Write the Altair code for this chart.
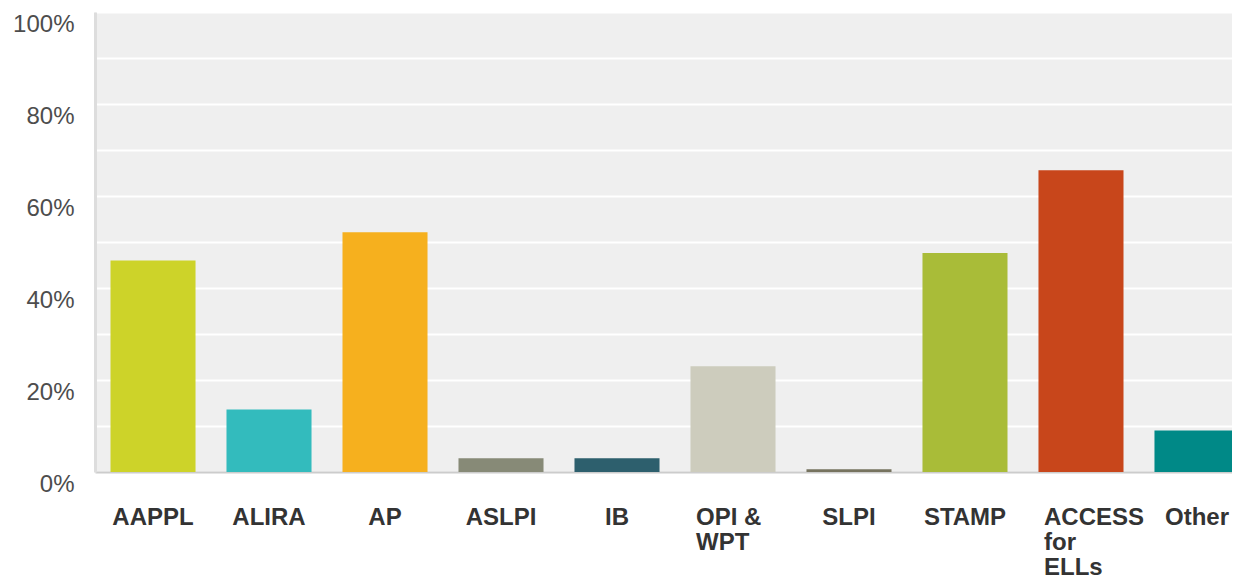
import altair as alt
import pandas as pd

categories = ["AAPPL", "ALIRA", "AP", "ASLPI", "IB", "OPI & WPT", "SLPI",
              "STAMP", "ACCESS for ELLs", "Other"]
shares = [0.460, 0.136, 0.521, 0.030, 0.030, 0.230, 0.006, 0.476, 0.656, 0.090]
y_ticks = [0, 0.1, 0.2, 0.3, 0.4, 0.5, 0.6, 0.7, 0.8, 0.9, 1.0]

bar_colors = ["#cdd329", "#33bbbd", "#f6b01e", "#878a77", "#2d5f6d",
              "#cdccbd", "#76735f", "#a9bc38", "#c8461b", "#008987"]

df = pd.DataFrame({"category": categories, "share": shares})

label_expr = (
    "datum.value == 'OPI & WPT' ? ['OPI &', 'WPT'] : "
    "datum.value == 'ACCESS for ELLs' ? ['ACCESS', 'for', 'ELLs'] : datum.label"
)
multi_test = "datum.value == 'OPI & WPT' || datum.value == 'ACCESS for ELLs'"

chart = alt.Chart(df).mark_bar(clip=True).encode(
    x=alt.X(
        "category:N",
        sort=categories,
        scale=alt.Scale(range=[0, 1160], paddingInner=0.267, paddingOuter=0.1336),
        axis=alt.Axis(
            title=None,
            labelAngle=0,
            labelFont="Liberation Sans",
            labelFontSize=24,
            labelFontWeight="bold",
            labelColor="#333333",
            labelBaseline="top",
            labelPadding=33,
            labelLineHeight=25,
            labelExpr=label_expr,
            labelAlign={"condition": {"test": multi_test, "value": "left"}, "value": "center"},
            labelOffset={"condition": {"test": multi_test, "value": -37}, "value": 0},
            ticks=False,
            domainColor="#cccccc",
            domainWidth=2,
            grid=False,
            labelOverlap=False,
            labelBound=False,
            labelFlush=False,
        ),
    ),
    y=alt.Y(
        "share:Q",
        scale=alt.Scale(domain=[0, 1], nice=False),
        axis=alt.Axis(
            title=None,
            values=y_ticks,
            format=".0%",
            labelExpr="round(datum.value * 100) % 20 == 0 ? datum.label : ''",
            labelFont="Liberation Sans",
            labelFontSize=24,
            labelColor="#4d4d4d",
            labelBaseline="top",
            labelPadding=21,
            ticks=False,
            domainColor="#dddddd",
            domainWidth=3,
            gridColor="#ffffff",
            gridWidth=2,
            labelOverlap=False,
            labelBound=False,
        ),
    ),
    color=alt.Color(
        "category:N",
        scale=alt.Scale(domain=categories, range=bar_colors),
        legend=None,
    ),
).properties(
    width=1137,
    height=460,
    autosize=alt.AutoSizeParams(type="none"),
    padding={"left": 87, "top": 4, "right": 0, "bottom": 107},
    background="white",
).configure_view(
    fill="#efefef",
    stroke=None,
)

chart.save("out.html", embed_options={"renderer": "svg", "actions": False})
